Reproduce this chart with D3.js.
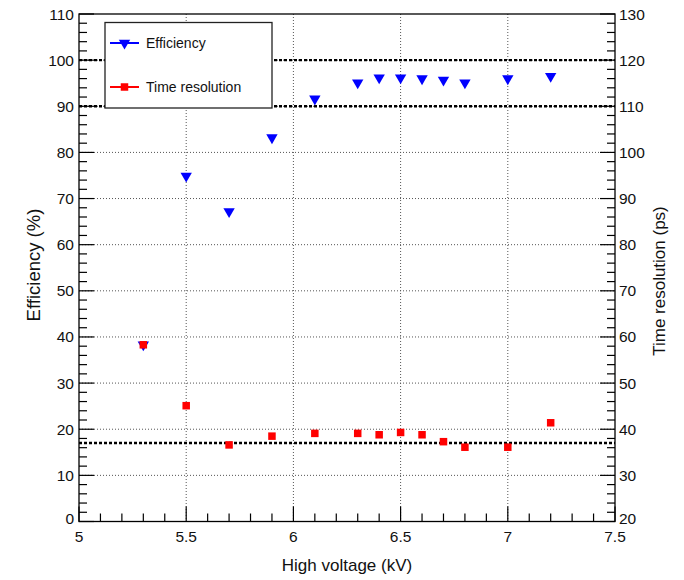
<!DOCTYPE html>
<html>
<head>
<meta charset="utf-8">
<script src="https://cdn.jsdelivr.net/npm/d3@7"></script>
<style>
  html, body { margin: 0; padding: 0; background: #fff; }
  svg { display: block; font-family: "Liberation Sans", Arial, sans-serif; }
</style>
</head>
<body>
<svg id="chart" width="684" height="580"></svg>
<script>
// High-voltage scan: efficiency (left axis) and time resolution (right axis)
const voltages   = [5.3, 5.5, 5.7, 5.9, 6.1, 6.3, 6.4, 6.5, 6.6, 6.7, 6.8, 7.0, 7.2];
const efficiency = [38.3, 74.9, 67.2, 83.2, 91.6, 95.1, 96.2, 96.2, 96.0, 95.7, 95.1, 96.0, 96.5];
const timeRes    = [58.3, 45.1, 36.6, 38.5, 39.1, 39.1, 38.8, 39.3, 38.8, 37.3, 36.1, 36.1, 41.4];

const xTicks      = [5, 5.5, 6, 6.5, 7, 7.5];
const xTickLabels = ["5", "5.5", "6", "6.5", "7", "7.5"];
const yLeftTicks  = [0, 10, 20, 30, 40, 50, 60, 70, 80, 90, 100, 110];
const yRightTicks = [20, 30, 40, 50, 60, 70, 80, 90, 100, 110, 120, 130];

const effRefLines  = [90, 100];   // efficiency reference levels (%)
const timeRefLines = [37];        // time resolution reference level (ps)

const legendItems = ["Efficiency", "Time resolution"];
const xTitle = "High voltage (kV)";
const yLeftTitle = "Efficiency (%)";
const yRightTitle = "Time resolution (ps)";

const frame = { left: 79, right: 615, top: 14, bottom: 521.5 };
const effColor = "#0000ff", timeColor = "#ff0000";

const svg = d3.select("#chart");

const x  = d3.scaleLinear().domain([5, 7.5]).range([frame.left, frame.right]);
const yL = d3.scaleLinear().domain([0, 110]).range([frame.bottom, frame.top]);
const yR = d3.scaleLinear().domain([20, 130]).range([frame.bottom, frame.top]);

// Grid (dotted) at interior major ticks
const grid = svg.append("g").attr("stroke", "#555").attr("stroke-width", 1)
  .attr("stroke-dasharray", "1,2");
grid.selectAll("line.gx").data(xTicks.filter(t => t > 5 && t < 7.5)).join("line")
  .attr("x1", d => x(d)).attr("x2", d => x(d))
  .attr("y1", frame.top).attr("y2", frame.bottom);
grid.selectAll("line.gy").data(yLeftTicks.filter(t => t > 0 && t < 110)).join("line")
  .attr("x1", frame.left).attr("x2", frame.right)
  .attr("y1", d => yL(d)).attr("y2", d => yL(d));

// Reference levels (thick dashed)
const refs = svg.append("g").attr("stroke", "#000").attr("stroke-width", 2.4)
  .attr("stroke-dasharray", "3,2");
refs.selectAll("line.e").data(effRefLines).join("line")
  .attr("x1", frame.left).attr("x2", frame.right)
  .attr("y1", d => yL(d)).attr("y2", d => yL(d));
refs.selectAll("line.t").data(timeRefLines).join("line")
  .attr("x1", frame.left).attr("x2", frame.right)
  .attr("y1", d => yR(d)).attr("y2", d => yR(d));

// Frame
svg.append("rect")
  .attr("x", frame.left).attr("y", frame.top)
  .attr("width", frame.right - frame.left).attr("height", frame.bottom - frame.top)
  .attr("fill", "none").attr("stroke", "#000").attr("stroke-width", 1.3);

// Ticks (inward, ROOT style)
const ticks = svg.append("g").attr("stroke", "#000").attr("stroke-width", 1.2);
const majorLen = 15, minorLen = 8;
const xMinor = d3.range(5, 7.5001, 0.1).map(v => +v.toFixed(2));
ticks.selectAll("line.xm").data(xMinor).join("line")
  .attr("x1", d => x(d)).attr("x2", d => x(d))
  .attr("y1", frame.bottom).attr("y2", d => frame.bottom - (Math.abs(d * 2 - Math.round(d * 2)) < 1e-6 ? majorLen : minorLen));
const yMinorL = d3.range(0, 110.001, 2);
ticks.selectAll("line.ylm").data(yMinorL).join("line")
  .attr("y1", d => yL(d)).attr("y2", d => yL(d))
  .attr("x1", frame.left).attr("x2", d => frame.left + (d % 10 === 0 ? majorLen : minorLen));
const yMinorR = d3.range(20, 130.001, 2);
ticks.selectAll("line.yrm").data(yMinorR).join("line")
  .attr("y1", d => yR(d)).attr("y2", d => yR(d))
  .attr("x1", frame.right).attr("x2", d => frame.right - (d % 10 === 0 ? majorLen : minorLen));

// Tick labels
const labels = svg.append("g").attr("font-size", 15.5).attr("fill", "#111");
labels.selectAll("text.xl").data(xTicks).join("text")
  .attr("x", d => x(d)).attr("y", 542).attr("text-anchor", "middle")
  .text((d, i) => xTickLabels[i]);
labels.selectAll("text.yl").data(yLeftTicks).join("text")
  .attr("x", frame.left - 5).attr("y", d => yL(d) + 5.5 - (d === 0 ? 3 : 0)).attr("text-anchor", "end")
  .text(d => d);
labels.selectAll("text.yr").data(yRightTicks).join("text")
  .attr("x", frame.right + 4).attr("y", d => yR(d) + 5.5 - (d === 20 ? 3 : 0)).attr("text-anchor", "start")
  .text(d => d);

// Axis titles
svg.append("text").attr("x", 347).attr("y", 571).attr("text-anchor", "middle")
  .attr("font-size", 17).attr("fill", "#111").text(xTitle);
svg.append("text").attr("transform", "translate(40,265) rotate(-90)").attr("text-anchor", "middle")
  .attr("font-size", 18.5).attr("fill", "#111").text(yLeftTitle);
svg.append("text").attr("transform", "translate(665,281) rotate(-90)").attr("text-anchor", "middle")
  .attr("font-size", 17).attr("fill", "#111").text(yRightTitle);

// Markers
const triDown = d3.symbol().type(d3.symbolTriangle).size(56);
svg.append("g").selectAll("path").data(voltages).join("path")
  .attr("d", triDown)
  .attr("transform", (d, i) => `translate(${x(d)},${yL(efficiency[i])}) rotate(180)`)
  .attr("fill", effColor);
svg.append("g").selectAll("rect").data(voltages).join("rect")
  .attr("x", d => x(d) - 3.75).attr("y", (d, i) => yR(timeRes[i]) - 3.75)
  .attr("width", 7.5).attr("height", 7.5).attr("fill", timeColor);

// Legend
const lg = svg.append("g");
lg.append("rect").attr("x", 105).attr("y", 22.5).attr("width", 167).attr("height", 85.5)
  .attr("fill", "#fff").attr("stroke", "#222").attr("stroke-width", 1.3);
const legendColors = [effColor, timeColor];
const legendY = [43, 87];
legendItems.forEach((name, i) => {
  lg.append("line").attr("x1", 110).attr("x2", 139).attr("y1", legendY[i]).attr("y2", legendY[i])
    .attr("stroke", legendColors[i]).attr("stroke-width", 2);
  if (i === 0) {
    lg.append("path").attr("d", triDown)
      .attr("transform", `translate(124.5,${legendY[i]}) rotate(180)`).attr("fill", effColor);
  } else {
    lg.append("rect").attr("x", 124.5 - 3.75).attr("y", legendY[i] - 3.75)
      .attr("width", 7.5).attr("height", 7.5).attr("fill", timeColor);
  }
  lg.append("text").attr("x", 146).attr("y", legendY[i] + 5).attr("font-size", 14)
    .attr("fill", "#111").text(name);
});
</script>
</body>
</html>
